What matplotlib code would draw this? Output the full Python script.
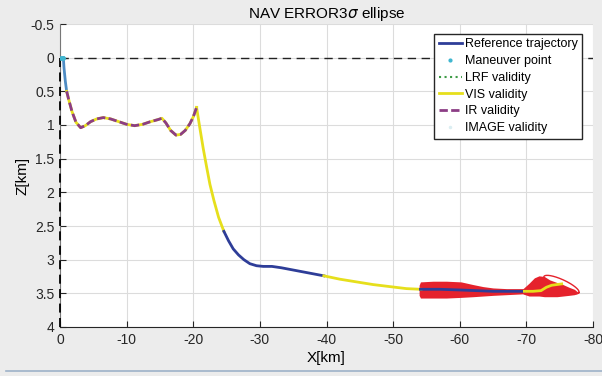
import numpy as np
import matplotlib
matplotlib.use("Agg")
import matplotlib.pyplot as plt
from matplotlib.lines import Line2D

plt.rcParams['font.family'] = ['Liberation Sans', 'DejaVu Sans']
plt.rcParams['axes.unicode_minus'] = False

# ---------------- data ----------------
title = r'NAV ERROR3$\sigma$ ellipse'
xticks = [0, -10, -20, -30, -40, -50, -60, -70, -80]
xtick_labels = ['0', '-10', '-20', '-30', '-40', '-50', '-60', '-70', '-80']
yticks = [-0.5, 0, 0.5, 1, 1.5, 2, 2.5, 3, 3.5, 4]
ytick_labels = ['-0.5', '0', '0.5', '1', '1.5', '2', '2.5', '3', '3.5', '4']

# maneuver point and first descent
man_x = [-0.2, -0.5]
man_z = [0.0, 0.0]
desc_x = [-0.5, -0.6, -0.8, -1.0]
desc_z = [0.0, 0.15, 0.35, 0.5]

# IR (over VIS) segment
ir_x = [-1.0, -1.3, -1.8, -2.4, -3.1, -3.8, -4.6, -5.5, -6.5, -7.6, -8.8, -10.0,
        -11.2, -12.4, -13.6, -14.7, -15.3, -15.9, -16.6, -17.4, -18.1, -18.8,
        -19.5, -20.0, -20.5]
ir_z = [0.50, 0.62, 0.80, 0.96, 1.04, 1.01, 0.95, 0.91, 0.89, 0.91, 0.95, 0.99,
        1.01, 0.99, 0.95, 0.92, 0.90, 0.97, 1.08, 1.15, 1.14, 1.08,
        0.98, 0.88, 0.74]

# VIS segments
vis1_x = [-20.5, -21.0, -21.5, -22.0, -22.5, -23.1, -23.8, -24.6]
vis1_z = [0.74, 1.05, 1.35, 1.62, 1.88, 2.12, 2.37, 2.58]
vis2_x = [-39.6, -42.0, -44.5, -47.0, -49.5, -52.0, -54.2]
vis2_z = [3.24, 3.29, 3.33, 3.37, 3.40, 3.43, 3.44]
vis3_x = [-69.7, -71.0, -72.2, -73.0, -73.8, -75.3]
vis3_z = [3.47, 3.47, 3.46, 3.41, 3.38, 3.36]

# reference trajectory segments
ref1_x = [-24.6, -25.3, -26.0, -26.8, -27.6, -28.5, -29.5, -30.5, -31.8, -33.2,
          -34.8, -36.4, -38.0, -39.6]
ref1_z = [2.58, 2.72, 2.84, 2.93, 3.00, 3.06, 3.09, 3.10, 3.10, 3.12,
          3.15, 3.18, 3.21, 3.24]
ref2_x = [-54.1, -57.0, -60.0, -62.5, -65.0, -67.5, -69.7]
ref2_z = [3.44, 3.44, 3.45, 3.46, 3.47, 3.47, 3.47]

# 3-sigma ellipse envelopes
b1_x = [-53.9, -54.1, -56.0, -58.0, -60.2, -62.0, -63.5, -65.0, -67.0, -69.0, -70.5]
b1_up = [3.38, 3.33, 3.32, 3.32, 3.33, 3.37, 3.40, 3.42, 3.43, 3.43, 3.43]
b1_lo = [3.53, 3.57, 3.57, 3.57, 3.56, 3.55, 3.54, 3.53, 3.52, 3.51, 3.50]
b2_x = [-69.5, -70.4, -71.2, -71.9, -72.7, -73.5, -74.6, -75.5, -76.4, -77.2, -77.7]
b2_up = [3.43, 3.35, 3.27, 3.24, 3.25, 3.30, 3.34, 3.37, 3.41, 3.44, 3.48]
b2_lo = [3.51, 3.54, 3.54, 3.54, 3.55, 3.55, 3.55, 3.54, 3.53, 3.52, 3.50]

# last ellipse outline: centre, half major / half minor vectors (km)
ell_c = (-75.26, 3.37)
ell_a = (-2.63, 0.119)
ell_b = (0.31, 0.068)

# ---------------- colours ----------------
c_blue = '#2e3d98'
c_lblue = '#4f8cc4'
c_yel = '#e6df1c'
c_pur = '#8c3d85'
c_red = '#e5222c'
c_grn = '#3d9b45'

fig = plt.figure(figsize=(6.02, 3.76), dpi=100, facecolor='#ececec')
ax = fig.add_axes([60/602, 1-327/376, 533/602, 303/376])
ax.set_facecolor('white')

ax.set_xlim(0, -80)
ax.set_ylim(4, -0.5)
ax.set_xticks(xticks)
ax.set_xticklabels(xtick_labels)
ax.set_yticks(yticks)
ax.set_yticklabels(ytick_labels)
ax.grid(True, color='#dcdcdc', lw=0.8)
ax.set_axisbelow(True)
for s in ['top', 'right']:
    ax.spines[s].set_visible(False)
ax.spines['left'].set_color('#777777')
ax.spines['bottom'].set_color('#262626')
ax.tick_params(direction='in', length=4, labelsize=10, colors='#262626',
               pad=4)

# reference dashed lines
ax.axhline(0, color='#222222', lw=1.0, ls=(0, (6, 4)), zorder=2)
ax.plot([0, 0], [0, 4], color='black', lw=1.3, ls=(0, (5, 3)), zorder=3,
        clip_on=False)

# error ellipses
ax.fill_between(b1_x, b1_up, b1_lo, color=c_red, lw=0, zorder=3)
ax.fill_between(b2_x, b2_up, b2_lo, color=c_red, lw=0, zorder=3)
t = np.linspace(0, 2*np.pi, 200)
ex = ell_c[0] + np.cos(t)*ell_a[0] + np.sin(t)*ell_b[0]
ez = ell_c[1] + np.cos(t)*ell_a[1] + np.sin(t)*ell_b[1]
ax.plot(ex, ez, color=c_red, lw=1.0, zorder=3)

# trajectory
lw = 2.0
ax.plot(desc_x, desc_z, color=c_lblue, lw=lw, zorder=4)
ax.plot(ir_x, ir_z, color=c_yel, lw=lw, zorder=4)
ax.plot(ir_x, ir_z, color=c_pur, lw=lw, ls=(0, (3, 1.2)), zorder=5)
ax.plot(vis1_x, vis1_z, color=c_yel, lw=lw, zorder=4)
ax.plot(ref1_x, ref1_z, color=c_blue, lw=lw, zorder=4)
ax.plot(vis2_x, vis2_z, color=c_yel, lw=lw, zorder=4)
ax.plot(ref2_x, ref2_z, color=c_blue, lw=lw, zorder=4)
ax.plot(vis3_x, vis3_z, color=c_yel, lw=lw, zorder=4)
ax.plot(man_x, man_z, color='#3fb6d0', marker='.', ms=5, lw=2, zorder=6)

ax.set_title(title, fontsize=11, pad=4)
ax.set_xlabel('X[km]', fontsize=11, labelpad=3)
ax.set_ylabel('Z[km]', fontsize=11, labelpad=1)

handles = [
    Line2D([], [], color=c_blue, lw=2),
    Line2D([], [], color='#3fb6d0', marker='.', ms=4, ls='none'),
    Line2D([], [], color=c_grn, lw=1.5, ls=':'),
    Line2D([], [], color=c_yel, lw=2),
    Line2D([], [], color=c_pur, lw=2, ls=(0, (3, 1.2))),
    Line2D([], [], color='#dbeef2', marker='.', ms=3, ls='none'),
]
labels = ['Reference trajectory', 'Maneuver point', 'LRF validity',
          'VIS validity', 'IR validity', 'IMAGE validity']
leg = ax.legend(handles, labels, loc='upper right',
                bbox_to_anchor=(522/533, (327-34)/303), borderaxespad=0,
                fontsize=9, frameon=True, fancybox=False, framealpha=1,
                edgecolor='#262626', handlelength=1.9, handletextpad=0.2,
                labelspacing=0.38, borderpad=0.35)
leg.get_frame().set_linewidth(1.0)

fig.add_artist(Line2D([0.01, 1.0], [0.013, 0.013], color='#9db2c8', lw=1.2,
                      transform=fig.transFigure))

fig.savefig('out.png', dpi=100, facecolor=fig.get_facecolor())
